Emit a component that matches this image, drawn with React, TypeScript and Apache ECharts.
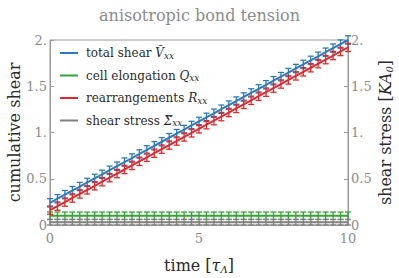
import React, { useEffect, useRef } from "react";
import * as echarts from "echarts";

const times = [0, 0.25, 0.5, 0.75, 1, 1.25, 1.5, 1.75, 2, 2.25, 2.5, 2.75, 3, 3.25, 3.5, 3.75, 4, 4.25, 4.5, 4.75, 5, 5.25, 5.5, 5.75, 6, 6.25, 6.5, 6.75, 7, 7.25, 7.5, 7.75, 8, 8.25, 8.5, 8.75, 9, 9.25, 9.5, 9.75, 10];
const totalShear = [0.24, 0.284, 0.328, 0.372, 0.416, 0.46, 0.504, 0.548, 0.592, 0.636, 0.68, 0.724, 0.768, 0.812, 0.856, 0.9, 0.944, 0.988, 1.032, 1.076, 1.12, 1.164, 1.208, 1.252, 1.296, 1.34, 1.384, 1.428, 1.472, 1.516, 1.56, 1.604, 1.648, 1.692, 1.736, 1.78, 1.824, 1.868, 1.912, 1.956, 2.0];
const cellElongation = [0.1, 0.1, 0.1, 0.1, 0.1, 0.1, 0.1, 0.1, 0.1, 0.1, 0.1, 0.1, 0.1, 0.1, 0.1, 0.1, 0.1, 0.1, 0.1, 0.1, 0.1, 0.1, 0.1, 0.1, 0.1, 0.1, 0.1, 0.1, 0.1, 0.1, 0.1, 0.1, 0.1, 0.1, 0.1, 0.1, 0.1, 0.1, 0.1, 0.1, 0.1];
const rearrangements = [0.16, 0.204, 0.248, 0.292, 0.336, 0.38, 0.424, 0.468, 0.512, 0.556, 0.6, 0.644, 0.688, 0.732, 0.776, 0.82, 0.864, 0.908, 0.952, 0.996, 1.04, 1.084, 1.128, 1.172, 1.216, 1.26, 1.304, 1.348, 1.392, 1.436, 1.48, 1.524, 1.568, 1.612, 1.656, 1.7, 1.744, 1.788, 1.832, 1.876, 1.92];
const shearStress = [0.03, 0.03, 0.03, 0.03, 0.03, 0.03, 0.03, 0.03, 0.03, 0.03, 0.03, 0.03, 0.03, 0.03, 0.03, 0.03, 0.03, 0.03, 0.03, 0.03, 0.03, 0.03, 0.03, 0.03, 0.03, 0.03, 0.03, 0.03, 0.03, 0.03, 0.03, 0.03, 0.03, 0.03, 0.03, 0.03, 0.03, 0.03, 0.03, 0.03, 0.03];
const errTotal = 0.045;
const errElong = 0.04;
const errRearr = 0.045;
const errStress = 0.03;

const yTicks = [0, 0.5, 1, 1.5, 2];
const yTickLabels = ["0", "0.5", "1.", "1.5", "2."];
const xTicks = [0, 5, 10];

const FONT = "DejaVu Serif";
const GRAY = "#8c8c8c";
const DARK = "#2b2b2b";

const seriesDefs = [
  { name: "total", color: "#2a7bbd", data: totalShear, err: errTotal, label: "{t|total shear }{i|Ṽ}{s|xx}" },
  { name: "elong", color: "#36a336", data: cellElongation, err: errElong, label: "{t|cell elongation }{i|Q}{s|xx}" },
  { name: "rearr", color: "#e3272b", data: rearrangements, err: errRearr, label: "{t|rearrangements }{i|R}{s|xx}" },
  { name: "stress", color: "#808080", data: shearStress, err: errStress, label: "{t|shear stress }{i|Σ̃}{s|xx}" },
];

const nameRich = (size: number, sub: number) => ({
  t: { fontFamily: FONT, fontSize: size, color: DARK },
  i: { fontFamily: FONT, fontSize: size, fontStyle: "italic", color: DARK },
  s: { fontFamily: FONT, fontSize: sub, fontStyle: "italic", color: DARK, verticalAlign: "bottom", padding: [Math.round(size * 0.45), 0, 0, 0] },
});

export default function App() {
  const ref = useRef<HTMLDivElement>(null);
  useEffect(() => {
    if (!ref.current) return;
    const chart = echarts.init(ref.current, undefined, { renderer: "svg" });
    const labelMap: Record<string, string> = {};
    seriesDefs.forEach((s) => (labelMap[s.name] = s.label));
    const series: any[] = [];
    seriesDefs.forEach((s) => {
      series.push({
        name: s.name,
        type: "line",
        symbol: "none",
        data: times.map((t, i) => [t, s.data[i]]),
        lineStyle: { color: s.color, width: 2 },
        itemStyle: { color: s.color },
        z: 3,
      });
      series.push({
        name: s.name + "_err",
        type: "custom",
        data: times.map((t, i) => [t, s.data[i], s.err]),
        renderItem: (params: any, api: any) => {
          const x = api.value(0);
          const y = api.value(1);
          const e = api.value(2);
          const top = api.coord([x, y + e]);
          const bot = api.coord([x, y - e]);
          const c = 3;
          const style = { stroke: s.color, lineWidth: 1.3 };
          return {
            type: "group",
            children: [
              { type: "line", shape: { x1: top[0], y1: top[1], x2: bot[0], y2: bot[1] }, style },
              { type: "line", shape: { x1: top[0] - c, y1: top[1], x2: top[0] + c, y2: top[1] }, style },
              { type: "line", shape: { x1: bot[0] - c, y1: bot[1], x2: bot[0] + c, y2: bot[1] }, style },
            ],
          };
        },
        z: 4,
      });
    });

    const yAxisCommon = {
      type: "value",
      min: 0,
      max: 2,
      interval: 0.5,
      axisLine: { show: true, lineStyle: { color: "#999", width: 1 } },
      axisTick: { show: true, inside: true, length: 4, lineStyle: { color: "#999" } },
      splitLine: { show: false },
      axisLabel: {
        color: GRAY,
        fontFamily: FONT,
        fontSize: 13,
        margin: 3,
        formatter: (v: number) => {
          const idx = yTicks.indexOf(v);
          return idx >= 0 ? yTickLabels[idx] : "";
        },
      },
      nameLocation: "middle",
      nameMoveOverlap: false,
      nameTextStyle: { color: DARK, fontFamily: FONT, fontSize: 16 },
    };

    chart.setOption({
      animation: false,
      title: {
        text: "anisotropic bond tension",
        left: "center",
        top: 2,
        textStyle: { color: GRAY, fontFamily: FONT, fontSize: 16, fontWeight: "normal" },
      },
      grid: { left: 50, right: 51, top: 40, bottom: 53, show: true, borderColor: "#999", borderWidth: 1, outerBoundsMode: "none", containLabel: false },
      legend: {
        orient: "vertical",
        left: 55,
        top: 42,
        icon: "rect",
        itemWidth: 18,
        itemHeight: 2,
        itemGap: 9.5,
        data: seriesDefs.map((s) => s.name),
        formatter: (n: string) => labelMap[n],
        textStyle: {
          color: DARK,
          fontFamily: FONT,
          fontSize: 12,
          padding: [0, 0, 0, 3],
          rich: nameRich(12, 9),
        },
      },
      xAxis: {
        type: "value",
        min: 0,
        max: 10,
        interval: 5,
        axisLine: { show: true, lineStyle: { color: "#999", width: 1 } },
        axisTick: { show: true, inside: true, length: 4, lineStyle: { color: "#999" } },
        splitLine: { show: false },
        axisLabel: {
          color: GRAY,
          fontFamily: FONT,
          fontSize: 13,
          margin: 7,
          formatter: (v: number) => (xTicks.indexOf(v) >= 0 ? String(v) : ""),
        },
        name: "{t|time [}{i|τ}{s|Λ}{t|]}",
        nameLocation: "middle",
        nameMoveOverlap: false,
        nameGap: 32,
        nameTextStyle: { color: DARK, fontFamily: FONT, fontSize: 16, rich: nameRich(16, 10) },
      },
      yAxis: [
        { ...yAxisCommon, position: "left", name: "cumulative shear", nameGap: 28 },
        {
          ...yAxisCommon,
          position: "right",
          name: "{t|shear stress [}{i|KA}{s|0}{t|]}",
          nameGap: 29,
          nameRotate: 90,
          nameTextStyle: { color: DARK, fontFamily: FONT, fontSize: 16, rich: nameRich(16, 10) },
        },
      ],
      series,
    });
    return () => chart.dispose();
  }, []);
  return <div ref={ref} style={{ position: "absolute", left: 0, top: 0, width: 399, height: 278 }} />;
}
